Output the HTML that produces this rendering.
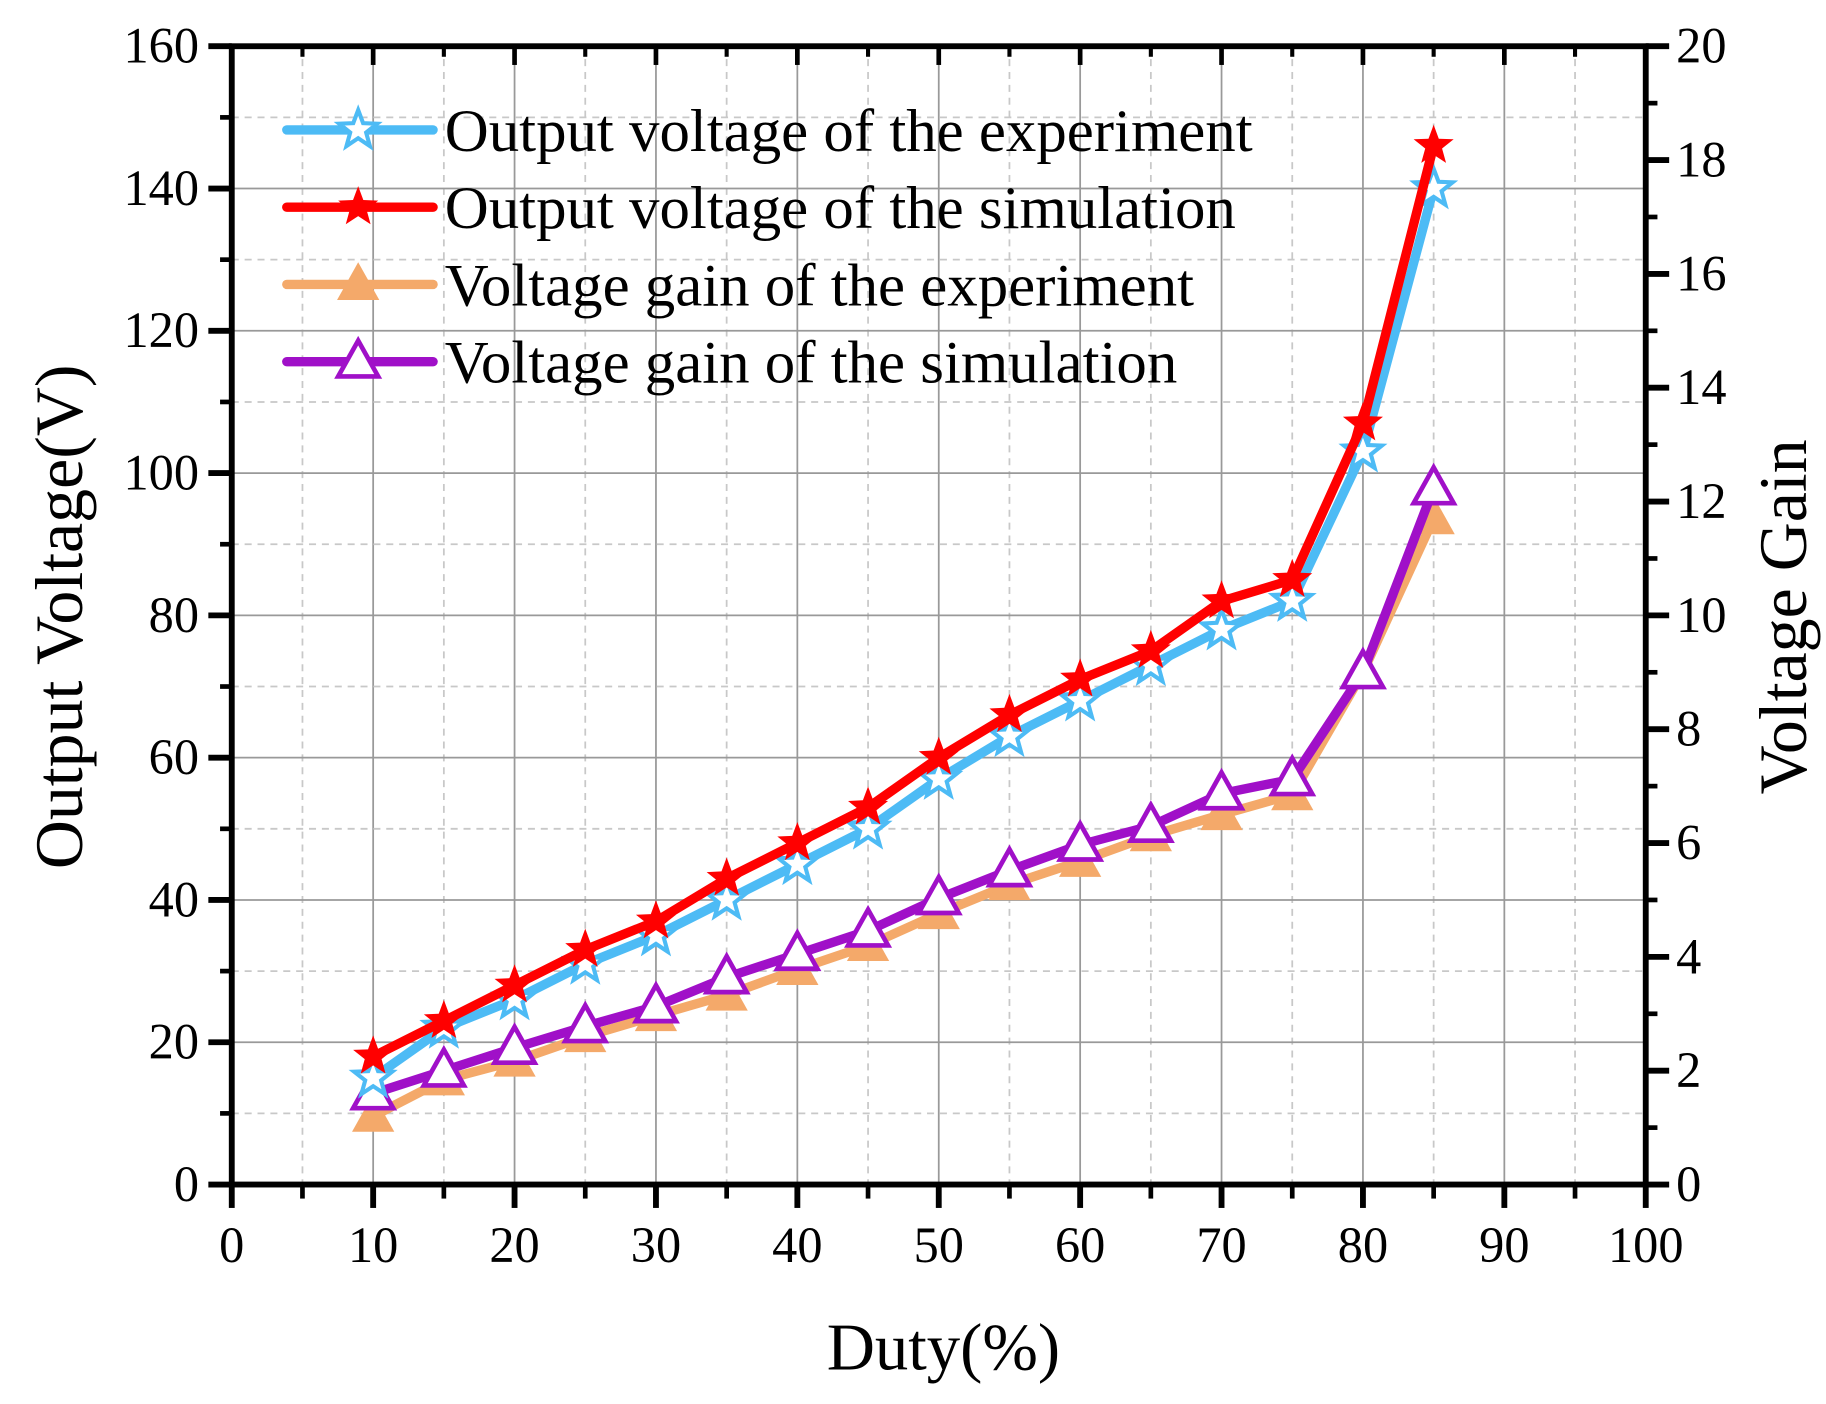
<!DOCTYPE html>
<html><head><meta charset="utf-8"><style>
html,body{margin:0;padding:0;background:#fff;}
svg{display:block;}
text{font-family:"Liberation Serif",serif;fill:#000;}
</style></head><body>
<svg id="chart" width="1826" height="1404" viewBox="0 0 1560 1199.5" preserveAspectRatio="none" xmlns="http://www.w3.org/2000/svg">
<g id="grid"></g>
<g id="series"></g>
<g id="axes"></g>
<g id="legend"></g>
<text x="806" y="1170" font-size="57" text-anchor="middle">Duty(%)</text>
<text transform="translate(70,527) rotate(-90)" font-size="58" text-anchor="middle">Output Voltage(V)</text>
<text transform="translate(1543,527) rotate(-90)" font-size="58" text-anchor="middle">Voltage Gain</text>
</svg>
<script>
const duty=[10,15,20,25,30,35,40,45,50,55,60,65,70,75,80,85];
const voltExp=[15,22,26,31,35,40,45,50,57,63,68,73,78,82,103,140];
const voltSim=[18,23,28,33,37,43,48,53,60,66,71,75,82,85,107,146];
const gainExp=[1.2,1.84,2.17,2.6,2.97,3.33,3.78,4.2,4.76,5.27,5.68,6.13,6.5,6.85,9.0,11.7];
const gainSim=[1.6,2.0,2.4,2.78,3.13,3.64,4.05,4.46,5.03,5.52,5.97,6.3,6.87,7.12,9.0,12.23];
const xTicks=[0,10,20,30,40,50,60,70,80,90,100];
const yTicks=[0,20,40,60,80,100,120,140,160];
const y2Ticks=[0,2,4,6,8,10,12,14,16,18,20];
const legendLabels=["Output voltage of the experiment","Output voltage of the simulation","Voltage gain of the experiment","Voltage gain of the simulation"];

const L=198,R=1406,T=39.5,B=1012;
const xs=v=>L+(v/100)*(R-L);
const ys=v=>B-(v/160)*(B-T);
const y2s=v=>B-(v/20)*(B-T);
const NS="http://www.w3.org/2000/svg";
function mk(tag,parent,attrs){const e=document.createElementNS(NS,tag);for(const k in attrs)e.setAttribute(k,attrs[k]);parent.appendChild(e);return e;}
const grid=document.getElementById('grid'),axes=document.getElementById('axes'),series=document.getElementById('series'),legend=document.getElementById('legend');

for(let v=5;v<100;v+=5){
  const g=mk('line',grid,{x1:xs(v),x2:xs(v),y1:T,y2:B,stroke:v%10?'#c8c8c8':'#999','stroke-width':1.5,'stroke-dasharray':v%10?'6,5':'none'});
  
  
}
for(let v=10;v<160;v+=10){
  const g=mk('line',grid,{x1:L,x2:R,y1:ys(v),y2:ys(v),stroke:v%20?'#c8c8c8':'#999','stroke-width':1.5,'stroke-dasharray':v%20?'6,5':'none'});
  
  
}

function star(cx,cy,r){let p=[];for(let i=0;i<10;i++){const a=-Math.PI/2+i*Math.PI/5;const rr=i%2?r*0.42:r;p.push((cx+rr*Math.cos(a)).toFixed(1)+','+(cy+rr*Math.sin(a)).toFixed(1));}return p.join(' ');}
function tri(cx,cy,r){return `${cx},${cy-r} ${cx+r*0.95},${cy+r*0.7} ${cx-r*0.95},${cy+r*0.7}`;}
function drawMarker(parent,type,cx,cy,color){
  if(type==='star-open') return mk('polygon',parent,{points:star(cx,cy,17),fill:'#fff',stroke:color,'stroke-width':3.5});
  if(type==='star') return mk('polygon',parent,{points:star(cx,cy,18),fill:color});
  if(type==='tri') return mk('polygon',parent,{points:tri(cx,cy,19),fill:color});
  return mk('polygon',parent,{points:tri(cx,cy,18),fill:'#fff',stroke:color,'stroke-width':4});
}
const defs=[
 {vals:gainExp,sc:y2s,color:'#f4a96a',m:'tri',name:'gain-experiment'},
 {vals:gainSim,sc:y2s,color:'#a010c8',m:'tri-open',name:'gain-simulation'},
 {vals:voltExp,sc:ys,color:'#4dbbf5',m:'star-open',name:'voltage-experiment'},
 {vals:voltSim,sc:ys,color:'#f00',m:'star',name:'voltage-simulation'}
];
defs.forEach(d=>{
  const g=mk('g',series,{});
  
  
  const pts=duty.map((x,i)=>xs(x)+','+d.sc(d.vals[i])).join(' ');
  const pl=mk('polyline',g,{points:pts,fill:'none',stroke:d.color,'stroke-width':8,'stroke-linejoin':'round'});
  
  
  duty.forEach((x,i)=>{
    const m=drawMarker(g,d.m,xs(x),d.sc(d.vals[i]),d.color);
    
    
  });
});

mk('rect',axes,{x:L,y:T,width:R-L,height:B-T,fill:'none',stroke:'#000','stroke-width':5});
xTicks.forEach(v=>{
  mk('line',axes,{x1:xs(v),x2:xs(v),y1:B,y2:B+20,stroke:'#000','stroke-width':5});
  mk('line',axes,{x1:xs(v),x2:xs(v),y1:T,y2:T+16,stroke:'#000','stroke-width':4});
  const t=mk('text',axes,{x:xs(v),y:B+66,'font-size':43,'text-anchor':'middle'});t.textContent=v;
  
  
});
for(let v=5;v<100;v+=10){mk('line',axes,{x1:xs(v),x2:xs(v),y1:B,y2:B+12,stroke:'#000','stroke-width':4});mk('line',axes,{x1:xs(v),x2:xs(v),y1:T,y2:T+9,stroke:'#000','stroke-width':3.5});}
yTicks.forEach(v=>{
  mk('line',axes,{x1:L-20,x2:L,y1:ys(v),y2:ys(v),stroke:'#000','stroke-width':5});
  const t=mk('text',axes,{x:L-28,y:ys(v)+14,'font-size':43,'text-anchor':'end'});t.textContent=v;
  
  
});
for(let v=10;v<160;v+=20){mk('line',axes,{x1:L-10,x2:L,y1:ys(v),y2:ys(v),stroke:'#000','stroke-width':4});}
y2Ticks.forEach(v=>{
  mk('line',axes,{x1:R,x2:R+20,y1:y2s(v),y2:y2s(v),stroke:'#000','stroke-width':5});
  const t=mk('text',axes,{x:R+26,y:y2s(v)+14,'font-size':43});t.textContent=v;
  
  
});
for(let v=1;v<20;v+=2){mk('line',axes,{x1:R,x2:R+10,y1:y2s(v),y2:y2s(v),stroke:'#000','stroke-width':4});}

const legendOrder=[2,3,0,1];
legendLabels.forEach((lab,i)=>{
  const d=defs[legendOrder[i]];const y=111+i*66;
  const g=mk('g',legend,{});
  
  
  mk('line',g,{x1:245,x2:370,y1:y,y2:y,stroke:d.color,'stroke-width':8,'stroke-linecap':'round'});
  drawMarker(g,d.m,306,y,d.color);
  const t=mk('text',g,{x:380,y:y+18,'font-size':52});t.textContent=lab;
});
</script>
</body></html>
